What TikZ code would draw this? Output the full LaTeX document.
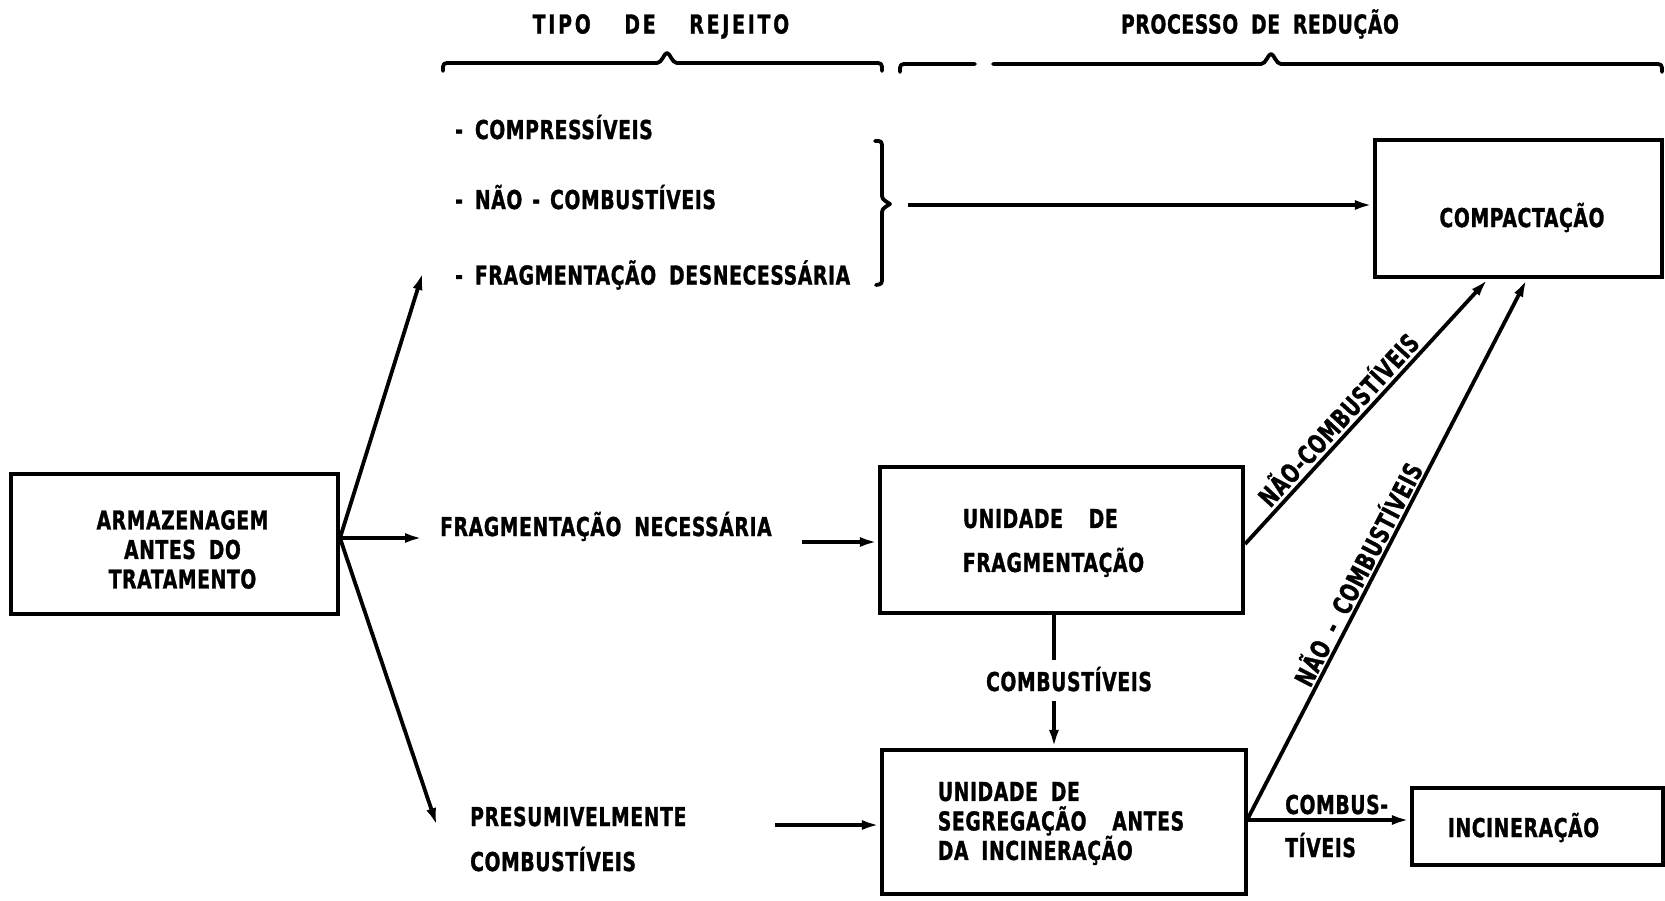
\documentclass[tikz,border=0pt]{standalone}
\usepackage{fontspec}
\newfontfamily\lett{DejaVu Sans}[FakeStretch=0.72,LetterSpace=2.5,WordSpace=1.8,FakeBold=1.2]
\usetikzlibrary{arrows.meta}
\begin{document}
\begin{tikzpicture}[x=1pt,y=-1pt,
  every node/.style={font=\lett\bfseries\fontsize{26}{29.5}\selectfont},
  box/.style={draw, line width=4.2pt, inner sep=0pt},
  boxtext/.style={inner sep=0pt},
  lbl/.style={inner sep=0pt, anchor=base west},
  clbl/.style={inner sep=0pt, anchor=base},
  wire/.style={line width=3.8pt},
  arr/.style={wire, -{Latex[length=18pt,width=10pt]}},
  bracepen/.style={line width=3.8pt, line cap=round, line join=round}]
\useasboundingbox (0,0) rectangle (1665,900);

% column headings with their braces
\node[clbl] (hdrA) at (661,33.5) {\addfontfeatures{LetterSpace=11}TIPO\ \ DE\ \ REJEITO};
\node[clbl] (hdrB) at (1260,33.5) {PROCESSO DE REDUÇÃO};
\draw[bracepen] (443,71) .. controls (443,63) .. (451,63) -- (657,63)
  .. controls (662,63) and (664,53) .. (667,53)
  .. controls (670,53) and (672,63) .. (677,63) -- (874,63)
  .. controls (882,63) .. (882,71);
\draw[bracepen] (900,72) .. controls (900,64) .. (908,64) -- (975,64);
\draw[bracepen] (993,64) -- (1261,64)
  .. controls (1266,64) and (1268,54) .. (1271,54)
  .. controls (1274,54) and (1276,64) .. (1281,64) -- (1654,64)
  .. controls (1662,64) .. (1662,72);

% boxes
\node[box, minimum width=327pt, minimum height=140pt,
  label={[name=armtext, boxtext, align=center, xshift=8pt, yshift=-5.5pt]center:{ARMAZENAGEM\\ANTES DO\\TRATAMENTO}}]
  (arm) at (174.5,544) {};
\node[box, minimum width=363pt, minimum height=146pt,
  label={[name=fragtext, boxtext, align=left, xshift=-8pt, yshift=-3pt]center:{UNIDADE\ \ DE\\[14.5pt]FRAGMENTAÇÃO}}]
  (frag) at (1061.5,540) {};
\node[box, minimum width=287pt, minimum height=137pt,
  label={[name=comptext, boxtext, xshift=3.5pt, yshift=-9pt]center:{COMPACTAÇÃO}}]
  (comp) at (1518.5,208.5) {};
\node[box, minimum width=364pt, minimum height=144pt,
  label={[name=segtext, boxtext, align=left, xshift=-3pt, yshift=-1.5pt]center:{UNIDADE DE\\SEGREGAÇÃO\ \ ANTES\\DA INCINERAÇÃO}}]
  (seg) at (1064,822) {};
\node[box, minimum width=251pt, minimum height=77pt,
  label={[name=inctext, boxtext, xshift=-14pt, yshift=-1pt]center:{INCINERAÇÃO}}]
  (inc) at (1537.5,826.5) {};

% waste types
\node[lbl] (tA) at (455,139) {-\hspace{12pt}COMPRESSÍVEIS};
\node[lbl] (tB) at (455,209) {-\hspace{12pt}NÃO\hspace{10pt}-\hspace{10pt}COMBUSTÍVEIS};
\node[lbl] (tC) at (455,284.5) {-\hspace{12pt}FRAGMENTAÇÃO DESNECESSÁRIA};
\node[lbl] (nec) at (440,536) {FRAGMENTAÇÃO NECESSÁRIA};
\node[lbl] (presA) at (470,826) {PRESUMIVELMENTE};
\node[lbl] (presB) at (470,871) {COMBUSTÍVEIS};
\node[clbl] (comb) at (1069,691) {COMBUSTÍVEIS};
\node[lbl] (cbA) at (1285,814) {COMBUS-};
\node[lbl] (cbB) at (1285,857) {TÍVEIS};

% brace grouping the first three types
\draw[bracepen] (875,141) .. controls (882,141) .. (882,149) -- (882,193)
  .. controls (882,199) .. (890,204) .. controls (882,209) .. (882,215)
  -- (882,277) .. controls (882,284) .. (876,285);

% connectors
\coordinate (fan) at (340,538);
\coordinate (upTip) at (423,272);
\coordinate (midTip) at (423,538);
\coordinate (lowTip) at (437,826);
\draw[arr] (fan) -- (upTip);
\draw[arr] (fan) -- (midTip);
\draw[arr] (fan) -- (lowTip);

\coordinate (brc) at (908,205);
\draw[arr] (brc) -- (brc -| comp.west);

\coordinate (necEnd) at (802,542);
\draw[arr] (necEnd) -- (necEnd -| frag.west);

\coordinate (presEnd) at (775,825);
\draw[arr] (presEnd) -- (presEnd -| seg.west);

\coordinate (vA) at (1054,660);
\coordinate (vB) at (1054,701);
\draw[wire] (frag.south -| vA) -- (vA);
\draw[arr] (vB) -- (vB |- seg.north);

\draw[arr] ([yshift=-4pt]frag.east) -- node[sloped, pos=0.43, above=3pt, inner sep=0pt] (ncA) {NÃO-COMBUSTÍVEIS} ([xshift=115pt]comp.south west);
\draw[arr] ([yshift=4pt]seg.east) -- node[sloped, pos=0.44, above=2pt, inner sep=0pt] (ncB) {NÃO - COMBUSTÍVEIS} ([xshift=154pt]comp.south west);
\draw[arr] ([yshift=2pt]seg.east) -- ([yshift=2pt]seg.east -| inc.west);
\end{tikzpicture}
\end{document}
